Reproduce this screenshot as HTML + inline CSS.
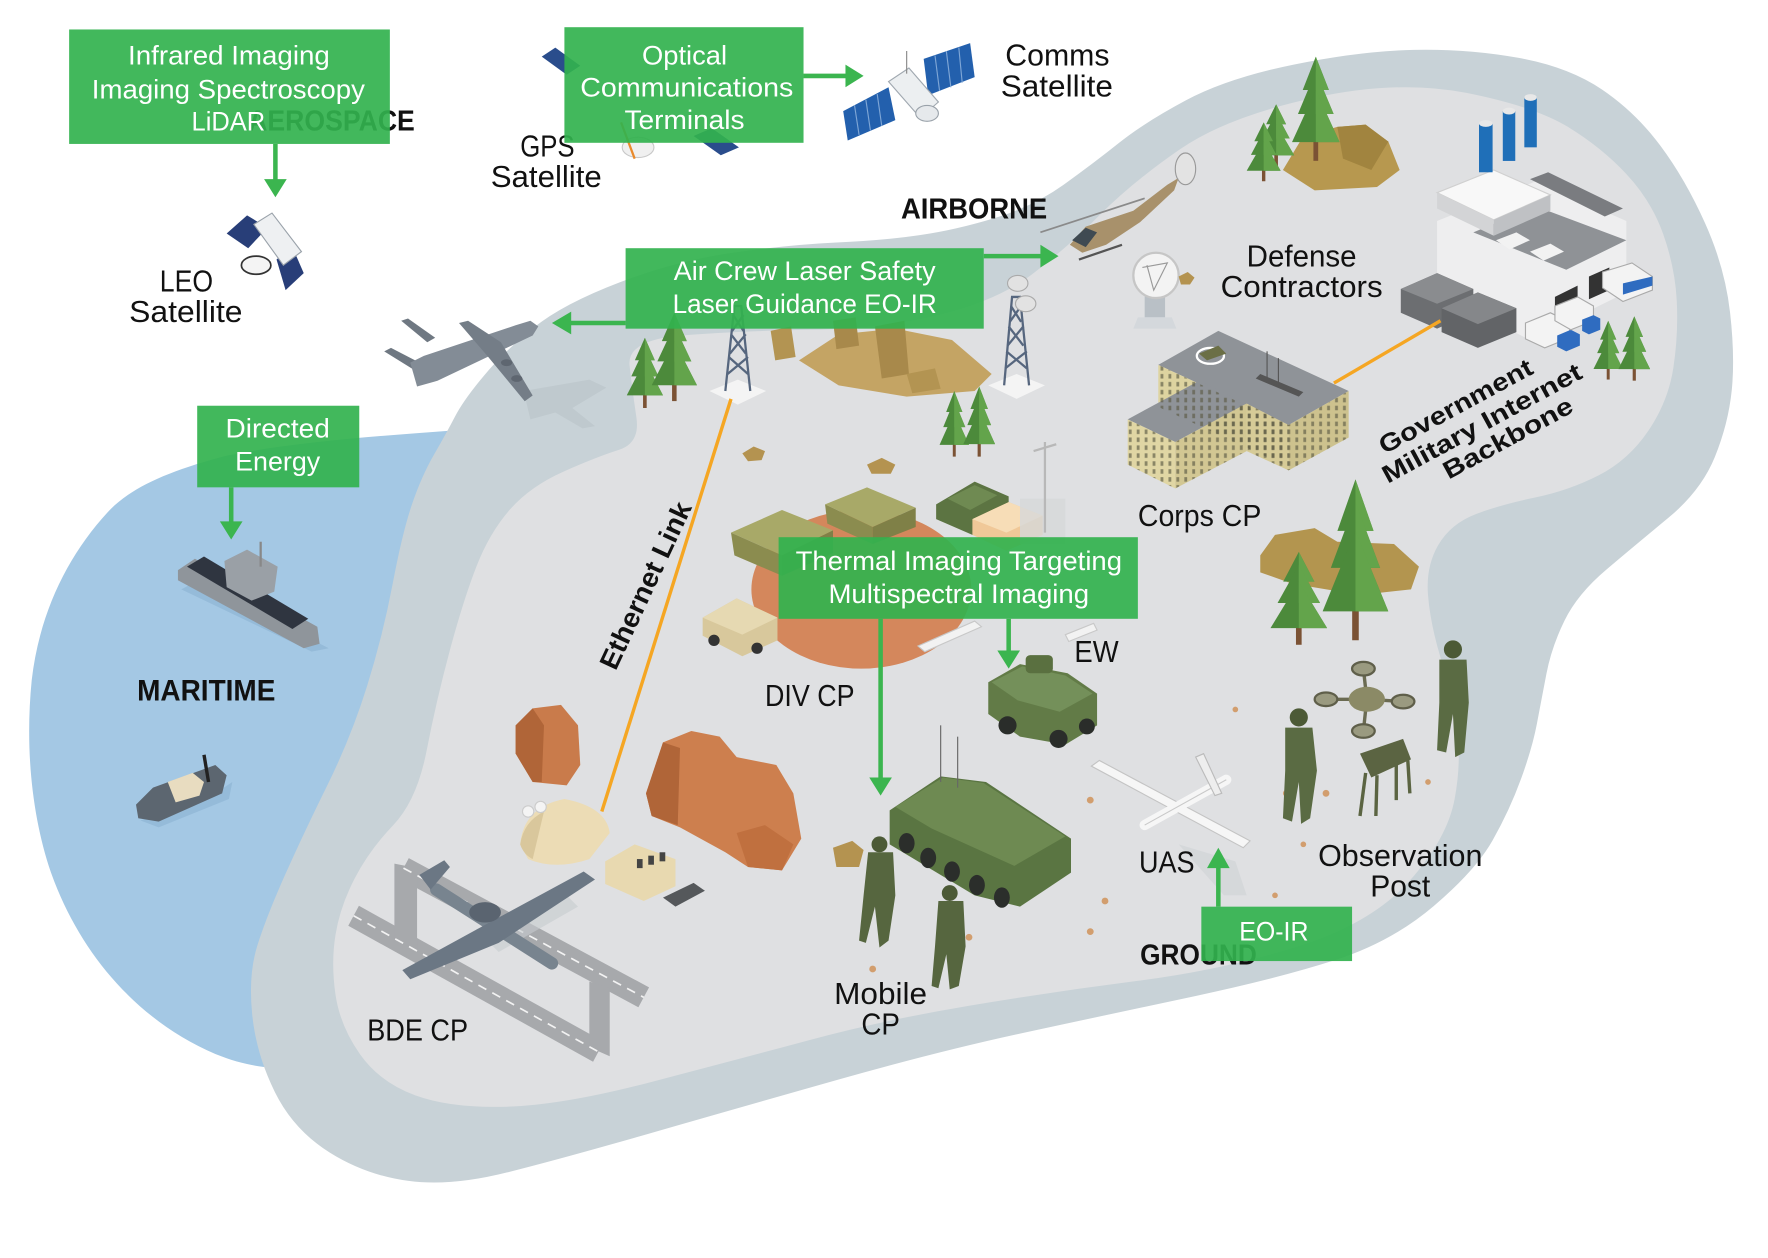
<!DOCTYPE html>
<html>
<head>
<meta charset="utf-8">
<style>
  html,body{margin:0;padding:0;background:#ffffff;}
  svg{display:block;}
  text{font-family:"Liberation Sans", sans-serif;}
  .lb{font-size:27px;fill:#111;}
  .bx{font-size:24px;fill:#ffffff;}
  .bd{font-weight:bold;fill:#111;}
</style>
</head>
<body>
<svg xmlns="http://www.w3.org/2000/svg" width="1768" height="1258" viewBox="0 0 1560 1110">
<defs>
  <symbol id="pine" viewBox="0 0 40 100" preserveAspectRatio="none">
    <rect x="18" y="78" width="4" height="22" fill="#7b5234"/>
    <polygon points="20,0 31,32 9,32" fill="#4c8a3b"/>
    <polygon points="20,14 35,55 5,55" fill="#4c8a3b"/>
    <polygon points="20,32 40,82 0,82" fill="#4c8a3b"/>
    <polygon points="20,0 31,32 20,32" fill="#63a44b"/>
    <polygon points="20,14 35,55 20,55" fill="#63a44b"/>
    <polygon points="20,32 40,82 20,82" fill="#63a44b"/>
  </symbol>
  <pattern id="win" width="7" height="7" patternUnits="userSpaceOnUse">
    <rect x="2" y="1" width="2.5" height="4" fill="#5d5a45" opacity="0.65"/>
  </pattern>
</defs>

<rect x="0" y="0" width="1560" height="1110" fill="#ffffff"/>

<!-- water -->
<path d="M398,380 C330,385 260,390 200,402 C150,415 115,430 95,452 C60,490 35,540 28,600 C22,660 28,720 45,770 C70,840 120,900 190,930 C210,938 225,941 240,942 L420,600 Z" fill="#a4c8e4"/>

<!-- outer land band -->
<path d="M401.5,367.5 Q409,353 427,331.5 Q445,310 471,289 Q497,268 547,249 Q597,230 646.5,223 Q696,216 738,214 Q780,212 811.5,207.5 Q843,203 877.5,192.5 Q912,182 938.5,163 Q965,144 987.5,126 Q1010,108 1046.5,88.5 Q1083,69 1141.5,57 Q1200,45 1247.5,44 Q1295,43 1339.5,51 Q1384,59 1413.5,79 Q1443,99 1465,128.5 Q1487,158 1504.5,197 Q1522,236 1526.5,275.5 Q1531,315 1528,344.5 Q1525,374 1513,403.5 Q1501,433 1472,457 Q1443,481 1417.5,502.5 Q1392,524 1380.5,547.5 Q1369,571 1364.5,594.5 Q1360,618 1356,639 Q1352,660 1342,687.5 Q1332,715 1317,741.5 Q1302,768 1265,799.5 Q1228,831 1178.5,847 Q1129,863 1054,879 Q979,895 904.5,911 Q830,927 740,952.5 Q650,978 573.5,1000 Q497,1022 447.5,1034.5 Q398,1047 360.5,1042 Q323,1037 291,1017 Q259,997 242.5,963.5 Q226,930 222.5,895 Q219,860 227,834.5 Q235,809 251.5,772 Q268,735 289,692.5 Q310,650 324,605 Q338,560 346.5,515 Q355,470 363.5,445 Q372,420 383,401 Q394,382 401.5,367.5 Z" fill="#c8d2d7"/>

<!-- inner land -->
<path d="M555.5,322.5 Q553,300 601.5,296 Q650,292 715,291 Q780,290 830,277.5 Q880,265 910,242.5 Q940,220 970,190 Q1000,160 1041.5,131.5 Q1083,103 1158.5,86.5 Q1234,70 1294,82 Q1354,94 1383.5,112 Q1413,130 1435,153.5 Q1457,177 1467.5,206.5 Q1478,236 1479.5,265.5 Q1481,295 1476.5,324.5 Q1472,354 1454.5,380 Q1437,406 1410.5,419.5 Q1384,433 1354.5,439 Q1325,445 1302.5,453.5 Q1280,462 1269,481 Q1258,500 1260,525 Q1262,550 1271,580 Q1280,610 1285,640 Q1290,670 1283.5,705 Q1277,740 1243.5,777.5 Q1210,815 1144,835.5 Q1078,856 1003.5,865.5 Q929,875 854.5,887.5 Q780,900 715,917.5 Q650,935 573.5,955 Q497,975 447.5,976.5 Q398,978 366.5,966.5 Q335,955 317.5,930 Q300,905 296,877.5 Q292,850 296,825 Q300,800 313,775 Q326,750 347,728 Q368,706 376.5,662 Q385,618 397,573.5 Q409,529 420.5,499.5 Q432,470 450,449.5 Q468,429 497.5,416 Q527,403 546,397 Q565,391 561.5,368 Q558,345 555.5,322.5 Z" fill="#dfe0e2"/>

<!-- ===== satellites ===== -->
<polygon points="478,50 490,42 512,58 500,66" fill="#2a4d8c"/>
<polygon points="612,120 628,113 652,130 636,137" fill="#2a4d8c"/>
<ellipse cx="563" cy="130" rx="14" ry="9" fill="#f0f0f0" stroke="#c8c8c8"/>
<line x1="548" y1="108" x2="560" y2="140" stroke="#e98a2c" stroke-width="2"/>
<polygon points="744,98 784,77 790,106 748,124" fill="#2360ad"/>
<polygon points="815,52 856,38 860,68 819,84" fill="#2360ad"/>
<g stroke="#7fa6d6" stroke-width="1">
  <line x1="754" y1="93" x2="758" y2="119"/><line x1="764" y1="88" x2="768" y2="115"/><line x1="774" y1="83" x2="778" y2="111"/>
  <line x1="825" y1="49" x2="829" y2="80"/><line x1="835" y1="45" x2="839" y2="77"/><line x1="846" y1="42" x2="849" y2="73"/>
</g>
<polygon points="784,72 802,60 828,90 812,104" fill="#eceff1" stroke="#a0a8b0"/>
<ellipse cx="818" cy="100" rx="10" ry="7" fill="#e6e9ec" stroke="#9aa2aa"/>
<line x1="800" y1="45" x2="800" y2="65" stroke="#888"/>
<polygon points="200,206 218,190 236,201 219,219" fill="#283e78"/>
<polygon points="244,229 258,218 268,241 252,256" fill="#283e78"/>
<polygon points="224,198 240,188 266,222 250,234" fill="#eef0f2" stroke="#9aa2aa"/>
<ellipse cx="226" cy="234" rx="13" ry="8" fill="#f4f4f4" stroke="#333" stroke-width="1.5"/>

<!-- ===== aircraft ===== -->
<polygon points="462,345 520,335 535,342 505,360 525,376 514,378 490,364 468,370" fill="#bfc9ce"/>
<polygon points="339,310 345,307 374,322 368,328" fill="#6f7882"/>
<polygon points="354,283 360,281 384,298 377,302" fill="#6f7882"/>
<polygon points="362,320 374,314 455,287 468,283 475,288 470,296 386,336 368,341" fill="#838c96"/>
<polygon points="405,285 413,283 442,302 470,349 463,354 430,314" fill="#747d87"/>
<ellipse cx="447" cy="320" rx="5" ry="3" fill="#5e6670"/>
<ellipse cx="456" cy="334" rx="5" ry="3" fill="#5e6670"/>
<!-- Helicopter -->
<polygon points="944,216 958,200 1000,186 1030,163 1040,157 1036,168 1006,196 976,216 955,223" fill="#a8916b"/>
<polygon points="946,212 958,201 968,205 958,218" fill="#3f4a52"/>
<line x1="918" y1="205" x2="1010" y2="175" stroke="#8a8a8a" stroke-width="1.5"/>
<line x1="952" y1="229" x2="990" y2="216" stroke="#555" stroke-width="2"/>
<ellipse cx="1046" cy="149" rx="9" ry="14" fill="#e4e4e4" fill-opacity="0.7" stroke="#999"/>

<!-- ===== trees & rocks top ===== -->
<polygon points="1132,150 1150,120 1180,112 1205,110 1225,125 1235,150 1215,165 1160,168" fill="#b7984f"/>
<polygon points="1180,112 1205,110 1225,125 1210,150 1185,140" fill="#a1843f"/>
<use href="#pine" x="1140" y="50" width="42" height="92"/>
<use href="#pine" x="1110" y="92" width="32" height="55"/>
<use href="#pine" x="1100" y="108" width="30" height="52"/>

<polygon points="705,318 740,295 790,290 840,300 875,330 860,345 800,350 740,340" fill="#c4a464"/>
<polygon points="735,283 755,280 758,305 738,308" fill="#a8894b"/>
<polygon points="772,288 798,283 802,330 778,334" fill="#a8894b"/>
<polygon points="680,292 698,288 702,315 684,318" fill="#b39452"/>
<polygon points="800,330 825,325 830,343 805,347" fill="#b39452"/>
<use href="#pine" x="553" y="298" width="32" height="62"/>
<use href="#pine" x="575" y="276" width="40" height="78"/>
<use href="#pine" x="829" y="345" width="26" height="58"/>
<use href="#pine" x="850" y="341" width="28" height="62"/>
<use href="#pine" x="1406" y="283" width="26" height="52"/>
<use href="#pine" x="1428" y="279" width="28" height="57"/>

<!-- towers -->
<polygon points="626,345 651,335 676,345 651,357" fill="#f4f4f4"/>
<g stroke="#56667e" stroke-width="2" fill="none">
  <polyline points="640,345 648,270 654,270 662,345"/>
  <line x1="642" y1="330" x2="660" y2="315"/><line x1="660" y1="330" x2="643" y2="315"/>
  <line x1="644" y1="312" x2="658" y2="295"/><line x1="658" y1="312" x2="645" y2="295"/>
  <line x1="646" y1="292" x2="656" y2="278"/><line x1="656" y1="292" x2="647" y2="278"/>
</g>
<polygon points="872,340 897,330 922,340 897,352" fill="#f4f4f4"/>
<g stroke="#56667e" stroke-width="2" fill="none">
  <polyline points="886,340 893,262 900,262 908,340"/>
  <line x1="887" y1="325" x2="906" y2="310"/><line x1="906" y1="325" x2="888" y2="310"/>
  <line x1="889" y1="305" x2="903" y2="288"/><line x1="903" y1="305" x2="890" y2="288"/>
  <line x1="891" y1="284" x2="901" y2="270"/><line x1="901" y1="284" x2="892" y2="270"/>
</g>
<ellipse cx="898" cy="250" rx="9" ry="7" fill="#e2e2e2" stroke="#aaa"/>
<ellipse cx="905" cy="268" rx="9" ry="7" fill="#e2e2e2" stroke="#aaa"/>
<rect x="1010" y="260" width="18" height="20" fill="#b9c0c6"/>
<polygon points="1004,280 1034,280 1038,290 1000,290" fill="#d4d8dc"/>
<circle cx="1020" cy="243" r="20" fill="#f3f3f3" stroke="#c6c6c6" stroke-width="2"/>
<polyline points="1008,236 1030,232 1018,256 1012,234" fill="none" stroke="#999" stroke-width="1"/>

<!-- ===== factory ===== -->
<polygon points="1268,195 1355,160 1435,195 1435,258 1350,300 1268,258" fill="#eeeeef"/>
<polygon points="1300,205 1355,182 1435,212 1382,238" fill="#8f9296"/>
<polygon points="1320,212 1338,205 1350,212 1332,220" fill="#f2f2f2"/>
<polygon points="1350,222 1368,215 1380,222 1362,230" fill="#f2f2f2"/>
<polygon points="1268,170 1318,150 1368,172 1318,194" fill="#f8f8f8" stroke="#d0d0d0"/>
<polygon points="1268,170 1318,194 1318,208 1268,184" fill="#d3d4d6"/>
<polygon points="1318,194 1368,172 1368,186 1318,208" fill="#bfc1c4"/>
<polygon points="1350,158 1366,152 1432,184 1416,191" fill="#7a7c80"/>
<polygon points="1372,262 1392,252 1392,280 1372,290" fill="#333"/>
<polygon points="1402,244 1420,236 1420,256 1402,264" fill="#333"/>
<rect x="1305" y="109" width="12" height="43" fill="#1f6fb8"/>
<rect x="1326" y="98" width="11" height="44" fill="#1f6fb8"/>
<rect x="1345" y="86" width="11" height="44" fill="#1f6fb8"/>
<ellipse cx="1311" cy="109" rx="6" ry="3" fill="#e8e8e8"/>
<ellipse cx="1331.5" cy="98" rx="5.5" ry="3" fill="#e8e8e8"/>
<ellipse cx="1350.5" cy="86" rx="5.5" ry="3" fill="#e8e8e8"/>
<polygon points="1236,255 1268,241 1300,255 1300,276 1268,290 1236,276" fill="#6c6e71"/>
<polygon points="1236,255 1268,241 1300,255 1268,268" fill="#8a8c8f"/>
<polygon points="1272,272 1304,258 1338,272 1338,293 1304,307 1272,293" fill="#626467"/>
<polygon points="1272,272 1304,258 1338,272 1304,286" fill="#85878a"/>
<polygon points="1346,285 1368,276 1385,284 1385,298 1363,307 1346,299" fill="#f3f3f3" stroke="#aaa"/>
<polygon points="1374,296 1386,291 1394,295 1394,305 1382,310 1374,306" fill="#2f6cc0"/>
<polygon points="1372,270 1392,262 1406,270 1406,283 1386,291 1372,283" fill="#f3f3f3" stroke="#aaa"/>
<polygon points="1396,282 1406,278 1412,281 1412,291 1402,295 1396,292" fill="#2f6cc0"/>
<polygon points="1414,240 1440,232 1458,244 1458,256 1432,266 1414,254" fill="#f3f3f3" stroke="#aaa"/>
<polygon points="1432,250 1458,244 1458,252 1432,260" fill="#2f6cc0"/>

<!-- ===== Corps CP ===== -->
<polygon points="1022,322 1075,292 1190,345 1137,375" fill="#8f9398"/>
<polygon points="1022,322 1137,375 1137,412 1022,359" fill="#ddd3a0"/>
<polygon points="1137,375 1190,345 1190,386 1137,415" fill="#cdc28e"/>
<polygon points="995,370 1058,336 1100,356 1037,390" fill="#8f9398"/>
<polygon points="995,370 1037,390 1037,431 995,410" fill="#e0d6a4"/>
<polygon points="1037,390 1100,356 1100,398 1037,431" fill="#d2c793"/>
<polygon points="1100,356 1137,375 1137,415 1100,398" fill="#d6cb97"/>
<polygon points="1022,322 1137,375 1137,412 1022,359" fill="url(#win)"/>
<polygon points="1137,375 1190,345 1190,386 1137,415" fill="url(#win)"/>
<polygon points="995,370 1037,390 1037,431 995,410" fill="url(#win)"/>
<polygon points="1037,390 1100,356 1100,398 1037,431" fill="url(#win)"/>
<polygon points="1100,356 1137,375 1137,415 1100,398" fill="url(#win)"/>
<ellipse cx="1068" cy="314" rx="12" ry="7" fill="none" stroke="#fff" stroke-width="2"/>
<polygon points="1058,312 1075,305 1082,312 1065,318" fill="#6b6f46"/>
<line x1="1118" y1="310" x2="1118" y2="335" stroke="#555"/>
<line x1="1128" y1="316" x2="1128" y2="340" stroke="#555"/>
<polygon points="1112,330 1150,346 1146,350 1108,334" fill="#555"/>

<!-- trees lower right -->
<polygon points="1112,490 1125,472 1160,466 1180,478 1230,480 1252,500 1245,520 1200,525 1140,515 1112,505" fill="#b3954f"/>
<use href="#pine" x="1167" y="423" width="58" height="142"/>
<use href="#pine" x="1121" y="487" width="50" height="82"/>

<!-- ===== DIV CP ===== -->
<ellipse cx="760" cy="520" rx="97" ry="70" fill="#d4875c"/>
<polygon points="645,470 690,450 735,468 690,490" fill="#a8a968"/>
<polygon points="645,470 690,490 690,508 648,490" fill="#8b8c4f"/>
<polygon points="690,490 735,468 735,488 690,508" fill="#7f8047"/>
<polygon points="728,445 765,430 808,448 770,465" fill="#a8a968"/>
<polygon points="728,445 770,465 770,480 730,462" fill="#8b8c4f"/>
<polygon points="770,465 808,448 808,465 770,480" fill="#7f8047"/>
<polygon points="620,545 650,528 686,545 686,565 655,579 620,561" fill="#d8c89c"/>
<polygon points="650,528 686,545 655,560 620,545" fill="#e6d9b2"/>
<circle cx="630" cy="565" r="5" fill="#333"/><circle cx="668" cy="572" r="5" fill="#333"/>
<polygon points="826,445 860,425 890,438 890,458 858,472 826,458" fill="#5c7442"/>
<polygon points="836,440 860,428 880,437 856,450" fill="#6f8a52"/>
<polygon points="858,458 890,443 920,455 920,472 888,486 858,472" fill="#f0c898"/>
<polygon points="858,458 890,443 920,455 888,470" fill="#f7ddb7"/>
<rect x="900" y="440" width="40" height="40" fill="#d6d8da" opacity="0.8"/>
<line x1="922" y1="390" x2="922" y2="470" stroke="#b8b8b8" stroke-width="2"/>
<line x1="912" y1="398" x2="932" y2="392" stroke="#b8b8b8" stroke-width="2"/>
<polygon points="810,570 860,548 866,553 816,575" fill="#f2f2f2" stroke="#c8c8c8"/>
<polygon points="940,560 965,550 968,556 943,566" fill="#f2f2f2" stroke="#c8c8c8"/>

<g fill="#b49350">
  <polygon points="655,400 665,394 675,398 672,406 660,407"/>
  <polygon points="765,410 778,404 790,410 786,418 769,418"/>
  <polygon points="735,748 752,742 762,750 758,765 738,765"/>
  <polygon points="1040,244 1048,240 1054,245 1050,251 1042,251"/>
</g>
<g fill="#d29e6e">
  <circle cx="962" cy="706" r="3"/><circle cx="975" cy="795" r="3"/><circle cx="962" cy="822" r="3"/>
  <circle cx="770" cy="855" r="3"/><circle cx="855" cy="827" r="3"/><circle cx="1135" cy="700" r="3"/>
  <circle cx="1090" cy="626" r="2.5"/><circle cx="1170" cy="700" r="3"/><circle cx="1150" cy="745" r="2.5"/>
  <circle cx="1260" cy="690" r="2.5"/><circle cx="1125" cy="790" r="2.5"/>
</g>

<!-- EW vehicle -->
<polygon points="872,602 900,586 942,594 968,612 968,640 940,657 900,650 872,630" fill="#627b47"/>
<polygon points="875,602 902,588 940,596 964,612 935,628 898,618" fill="#74905a"/>
<rect x="905" y="578" width="24" height="16" rx="4" fill="#5a7040"/>
<circle cx="889" cy="640" r="8" fill="#2a2d2a"/><circle cx="934" cy="652" r="8" fill="#2a2d2a"/><circle cx="959" cy="641" r="7" fill="#2a2d2a"/>

<!-- Stryker -->
<polygon points="785,715 830,685 870,690 945,740 945,770 900,800 860,790 785,745" fill="#5a7542"/>
<polygon points="790,712 832,686 868,691 940,738 895,764 822,731" fill="#6e8a52"/>
<g fill="#2b2e2b">
  <ellipse cx="800" cy="744" rx="7" ry="9"/><ellipse cx="819" cy="757" rx="7" ry="9"/>
  <ellipse cx="840" cy="769" rx="7" ry="9"/><ellipse cx="862" cy="781" rx="7" ry="9"/>
  <ellipse cx="884" cy="792" rx="7" ry="9"/>
</g>
<line x1="830" y1="640" x2="830" y2="690" stroke="#666" stroke-width="1"/>
<line x1="845" y1="650" x2="845" y2="695" stroke="#666" stroke-width="1"/>

<g fill="#56663f">
  <circle cx="776" cy="745" r="7" fill="#4c5a36"/>
  <polygon points="766,752 788,752 790,790 784,830 776,836 772,800 764,832 758,830 762,790"/>
  <circle cx="838" cy="788" r="7" fill="#4c5a36"/>
  <polygon points="828,795 850,795 852,835 846,870 838,873 835,842 828,872 822,870 825,835"/>
</g>

<!-- orange rocks -->
<polygon points="455,640 470,625 495,622 510,640 512,675 500,693 470,690 455,665" fill="#c97b4b"/>
<polygon points="455,640 470,625 480,640 478,690 470,690 455,665" fill="#b06538"/>
<polygon points="570,700 585,655 610,645 635,650 650,668 685,675 700,700 707,740 690,768 660,765 640,752 600,730 575,720" fill="#cd7f4e"/>
<polygon points="570,700 585,655 600,660 598,728 575,720" fill="#b06538"/>
<polygon points="650,735 675,728 700,745 690,768 660,765" fill="#c0703f"/>

<path d="M459,745 Q462,712 498,705 Q535,712 538,735 L520,758 Q490,768 466,758 Z" fill="#ecdcb5"/>
<path d="M459,745 Q462,725 480,716 L470,758 Q462,754 459,745 Z" fill="#d9c79c"/>
<circle cx="466" cy="716" r="5" fill="#f4f4f4" stroke="#ccc"/><circle cx="477" cy="712" r="5" fill="#f4f4f4" stroke="#ccc"/>
<polygon points="534,760 560,745 596,758 596,782 568,795 534,780" fill="#e8d9b0"/>
<rect x="562" y="758" width="5" height="8" fill="#444"/><rect x="572" y="755" width="5" height="8" fill="#444"/><rect x="582" y="752" width="5" height="8" fill="#444"/>
<polygon points="585,792 612,779 622,786 596,800" fill="#55585b"/>

<!-- runway -->
<polygon points="360.7,757.2 572.7,871.2 563.3,888.8 351.3,774.8" fill="#a7a9ac"/>
<polygon points="316.7,799.2 532.7,919.2 523.3,936.8 307.3,816.8" fill="#a7a9ac"/>
<polygon points="348,762 368,766 368,838 348,830" fill="#a7a9ac"/>
<polygon points="520,866 538,872 538,932 520,924" fill="#a7a9ac"/>
<line x1="356" y1="766" x2="568" y2="880" stroke="#f2f2f2" stroke-width="1.5" stroke-dasharray="8 6"/>
<line x1="312" y1="808" x2="528" y2="928" stroke="#f2f2f2" stroke-width="1.5" stroke-dasharray="8 6"/>
<polygon points="420,820 500,790 510,800 440,840" fill="#c7cbcf" opacity="0.6"/>
<line x1="385" y1="785" x2="487" y2="850" stroke="#78848f" stroke-width="11" stroke-linecap="round"/>
<polygon points="515,769 525,776 440,832 362,864 355,856 430,815" fill="#6b7784"/>
<polygon points="370,772 392,759 397,765 380,785" fill="#6b7784"/>
<ellipse cx="428" cy="805" rx="14" ry="9" fill="#5a6470"/>

<!-- UAS -->
<polygon points="1040,745 1090,760 1100,790 1080,790" fill="#cfd2d5" opacity="0.6"/>
<polygon points="963,676 970,671 1103,742 1097,748" fill="#f6f6f6" stroke="#c4c4c4"/>
<line x1="1010" y1="728" x2="1082" y2="688" stroke="#f6f6f6" stroke-width="9" stroke-linecap="round"/>
<line x1="1010" y1="728" x2="1082" y2="688" stroke="#c9c9c9" stroke-width="1"/>
<polygon points="1055,668 1062,665 1078,700 1072,702" fill="#eeeeee" stroke="#bbb"/>

<!-- observation post -->
<g stroke="#6b6b52" stroke-width="3">
  <line x1="1206" y1="617" x2="1203" y2="590"/><line x1="1206" y1="617" x2="1238" y2="619"/>
  <line x1="1206" y1="617" x2="1170" y2="617"/><line x1="1206" y1="617" x2="1203" y2="645"/>
</g>
<g fill="#9a9a80" stroke="#5f5f4a" stroke-width="2">
  <ellipse cx="1203" cy="590" rx="10" ry="6"/><ellipse cx="1238" cy="619" rx="10" ry="6"/>
  <ellipse cx="1170" cy="617" rx="10" ry="6"/><ellipse cx="1203" cy="645" rx="10" ry="6"/>
</g>
<ellipse cx="1206" cy="617" rx="16" ry="11" fill="#8b8a66"/>
<g fill="#5a6b43">
  <circle cx="1146" cy="633" r="8" fill="#4c5a36"/>
  <polygon points="1134,642 1158,642 1162,680 1156,722 1148,727 1146,690 1140,725 1132,722 1134,680"/>
  <circle cx="1282" cy="573" r="8" fill="#4c5a36"/>
  <polygon points="1270,582 1294,582 1296,620 1292,664 1284,668 1282,630 1276,664 1268,662 1270,620"/>
</g>
<polygon points="1200,665 1238,652 1245,670 1210,686" fill="#5b6442"/>
<g stroke="#5b6442" stroke-width="3"><line x1="1205" y1="682" x2="1200" y2="720"/><line x1="1215" y1="684" x2="1214" y2="720"/><line x1="1232" y1="672" x2="1232" y2="706"/><line x1="1242" y1="668" x2="1244" y2="700"/></g>

<!-- ships -->
<polygon points="160,520 275,575 290,572 175,512" fill="#8fb5d4" opacity="0.7"/>
<polygon points="157,503 172,493 280,553 282,568 268,572 157,512" fill="#8f959b"/>
<polygon points="165,500 180,491 272,546 258,555" fill="#2f3540"/>
<polygon points="198,495 218,485 245,500 242,522 222,530 200,518" fill="#9aa0a6"/>
<line x1="230" y1="478" x2="230" y2="500" stroke="#888" stroke-width="2"/>
<polygon points="124,724 190,700 205,690 202,705 140,730" fill="#8fb5d4" opacity="0.7"/>
<polygon points="120,710 135,695 190,675 200,684 196,700 140,725 122,722" fill="#5c6670"/>
<polygon points="148,690 170,682 180,690 176,702 155,708" fill="#e8dcc0"/>
<line x1="180" y1="666" x2="184" y2="690" stroke="#222" stroke-width="3"/>

<!-- connector lines -->
<line x1="645" y1="352" x2="531" y2="716" stroke="#f5a623" stroke-width="3"/>
<line x1="1177" y1="338" x2="1271" y2="283" stroke="#f5a623" stroke-width="3"/>

<!-- ===== labels ===== -->
<text class="lb" x="483" y="138" text-anchor="middle" textLength="48" lengthAdjust="spacingAndGlyphs">GPS</text>
<text class="lb" x="482" y="165" text-anchor="middle" textLength="98" lengthAdjust="spacingAndGlyphs">Satellite</text>
<text class="lb" x="164.5" y="257" text-anchor="middle" textLength="47" lengthAdjust="spacingAndGlyphs">LEO</text>
<text class="lb" x="164" y="284" text-anchor="middle" textLength="100" lengthAdjust="spacingAndGlyphs">Satellite</text>
<text class="lb" x="933" y="58" text-anchor="middle" textLength="92" lengthAdjust="spacingAndGlyphs">Comms</text>
<text class="lb" x="932.5" y="85" text-anchor="middle" textLength="99" lengthAdjust="spacingAndGlyphs">Satellite</text>
<text class="bd" x="859.5" y="193" text-anchor="middle" font-size="25" textLength="129" lengthAdjust="spacingAndGlyphs">AIRBORNE</text>
<text class="lb" x="1148.5" y="235" text-anchor="middle" textLength="97" lengthAdjust="spacingAndGlyphs">Defense</text>
<text class="lb" x="1148.5" y="262" text-anchor="middle" textLength="143" lengthAdjust="spacingAndGlyphs">Contractors</text>
<text class="lb" x="1058.5" y="464" text-anchor="middle" textLength="109" lengthAdjust="spacingAndGlyphs">Corps CP</text>
<text class="bd" x="182" y="618" text-anchor="middle" font-size="26" textLength="122" lengthAdjust="spacingAndGlyphs">MARITIME</text>
<text class="lb" x="714.5" y="623" text-anchor="middle" textLength="79" lengthAdjust="spacingAndGlyphs">DIV CP</text>
<text class="lb" x="967.5" y="584" text-anchor="middle" textLength="39" lengthAdjust="spacingAndGlyphs">EW</text>
<text class="lb" x="1029.5" y="770" text-anchor="middle" textLength="49" lengthAdjust="spacingAndGlyphs">UAS</text>
<text class="lb" x="1235.5" y="764" text-anchor="middle" textLength="145" lengthAdjust="spacingAndGlyphs">Observation</text>
<text class="lb" x="1235.5" y="791" text-anchor="middle" textLength="53" lengthAdjust="spacingAndGlyphs">Post</text>
<text class="lb" x="368.5" y="918" text-anchor="middle" textLength="89" lengthAdjust="spacingAndGlyphs">BDE CP</text>
<text class="lb" x="777" y="886" text-anchor="middle" textLength="82" lengthAdjust="spacingAndGlyphs">Mobile</text>
<text class="lb" x="777" y="913" text-anchor="middle" textLength="34" lengthAdjust="spacingAndGlyphs">CP</text>

<text class="bd" transform="translate(577,520) rotate(-65)" text-anchor="middle" font-size="24" textLength="160" lengthAdjust="spacingAndGlyphs">Ethernet Link</text>
<text class="bd" transform="translate(1288,365) rotate(-28.5)" text-anchor="middle" font-size="22" textLength="151" lengthAdjust="spacingAndGlyphs">Government</text>
<text class="bd" transform="translate(1311,380) rotate(-28.5)" text-anchor="middle" font-size="22" textLength="197" lengthAdjust="spacingAndGlyphs">Military Internet</text>
<text class="bd" transform="translate(1334,393) rotate(-28.5)" text-anchor="middle" font-size="22" textLength="127" lengthAdjust="spacingAndGlyphs">Backbone</text>

<text class="bd" x="292.5" y="115" text-anchor="middle" font-size="25" textLength="147" lengthAdjust="spacingAndGlyphs">AEROSPACE</text>
<text class="bd" x="1057.5" y="851" text-anchor="middle" font-size="25" textLength="103" lengthAdjust="spacingAndGlyphs">GROUND</text>

<!-- ===== green boxes ===== -->
<g fill="#32b24e" fill-opacity="0.92">
  <rect x="61" y="26" width="283" height="101"/>
  <rect x="498" y="24" width="211" height="102"/>
  <rect x="552" y="219" width="316" height="71"/>
  <rect x="174" y="358" width="143" height="72"/>
  <rect x="687" y="474" width="317" height="72"/>
  <rect x="1060" y="800" width="133" height="48"/>
</g>

<g>
  <text class="bx" x="202" y="57" text-anchor="middle" textLength="178" lengthAdjust="spacingAndGlyphs">Infrared Imaging</text>
  <text class="bx" x="201.5" y="87" text-anchor="middle" textLength="241" lengthAdjust="spacingAndGlyphs">Imaging Spectroscopy</text>
  <text class="bx" x="201.5" y="115" text-anchor="middle" textLength="65" lengthAdjust="spacingAndGlyphs">LiDAR</text>
  <text class="bx" x="604" y="57" text-anchor="middle" textLength="75" lengthAdjust="spacingAndGlyphs">Optical</text>
  <text class="bx" x="606" y="85" text-anchor="middle" textLength="188" lengthAdjust="spacingAndGlyphs">Communications</text>
  <text class="bx" x="604" y="114" text-anchor="middle" textLength="106" lengthAdjust="spacingAndGlyphs">Terminals</text>
  <text class="bx" x="710" y="247" text-anchor="middle" textLength="231" lengthAdjust="spacingAndGlyphs">Air Crew Laser Safety</text>
  <text class="bx" x="710" y="276" text-anchor="middle" textLength="233" lengthAdjust="spacingAndGlyphs">Laser Guidance EO-IR</text>
  <text class="bx" x="245" y="386" text-anchor="middle" textLength="92" lengthAdjust="spacingAndGlyphs">Directed</text>
  <text class="bx" x="245" y="415" text-anchor="middle" textLength="75" lengthAdjust="spacingAndGlyphs">Energy</text>
  <text class="bx" x="846" y="503" text-anchor="middle" textLength="288" lengthAdjust="spacingAndGlyphs">Thermal Imaging Targeting</text>
  <text class="bx" x="846" y="532" text-anchor="middle" textLength="230" lengthAdjust="spacingAndGlyphs">Multispectral Imaging</text>
  <text class="bx" x="1124" y="830" text-anchor="middle" textLength="61" lengthAdjust="spacingAndGlyphs">EO-IR</text>
</g>

<!-- ===== arrows ===== -->
<g stroke="#3bb54f" stroke-width="4" fill="none">
  <line x1="243" y1="127" x2="243" y2="160"/>
  <line x1="709" y1="67" x2="748" y2="67"/>
  <line x1="868" y1="226" x2="920" y2="226"/>
  <line x1="552" y1="285" x2="502" y2="285"/>
  <line x1="204" y1="430" x2="204" y2="462"/>
  <line x1="777" y1="546" x2="777" y2="688"/>
  <line x1="890" y1="546" x2="890" y2="576"/>
  <line x1="1075" y1="800" x2="1075" y2="764"/>
</g>
<g fill="#3bb54f">
  <polygon points="233,158 253,158 243,174"/>
  <polygon points="746,57 746,77 762,67"/>
  <polygon points="918,216 918,236 934,226"/>
  <polygon points="504,275 504,295 487,285"/>
  <polygon points="194,460 214,460 204,476"/>
  <polygon points="767,686 787,686 777,702"/>
  <polygon points="880,574 900,574 890,590"/>
  <polygon points="1065,766 1085,766 1075,748"/>
</g>
</svg>
</body>
</html>
